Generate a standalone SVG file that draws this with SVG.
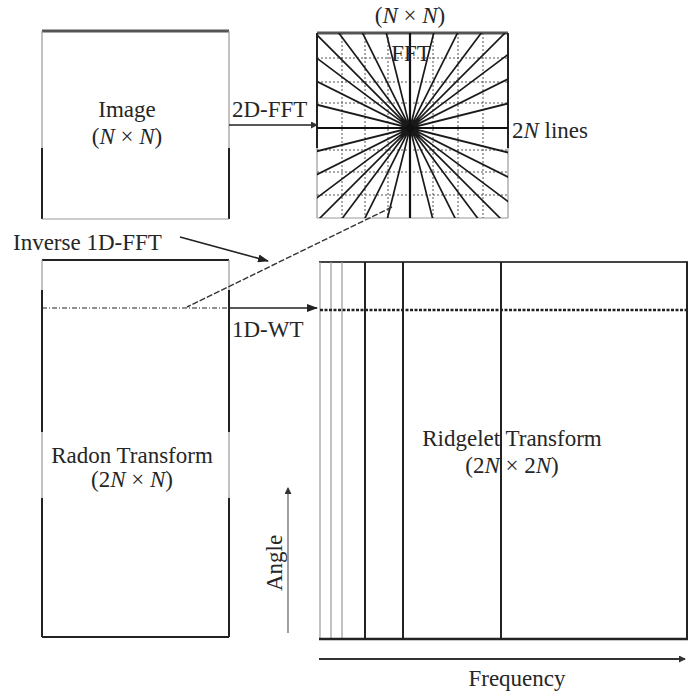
<svg xmlns="http://www.w3.org/2000/svg" width="689" height="698" viewBox="0 0 689 698">
<style>
text{font-family:"Liberation Serif","Times New Roman",serif;font-size:23px;fill:#262626}
.it{font-style:italic}
.lt{stroke:#999;stroke-width:1.2;fill:none}
.dk{stroke:#222;stroke-width:2;fill:none}
.grid{stroke:#555;stroke-width:1;stroke-dasharray:2 2;fill:none}
.ray{stroke:#1a1a1a;stroke-width:1.7;fill:none}
.conn{stroke:#222;stroke-width:1.6;fill:none}
</style>
<defs>
<marker id="arr" markerUnits="userSpaceOnUse" markerWidth="11" markerHeight="8" refX="10" refY="4" orient="auto">
<path d="M0,0 L11,4 L0,8 z" fill="#222"/>
</marker>
<marker id="sarr" markerUnits="userSpaceOnUse" markerWidth="7" markerHeight="7" refX="6" refY="3.5" orient="auto">
<path d="M0,0 L7,3.5 L0,7 z" fill="#333"/>
</marker>
<clipPath id="fftclip"><rect x="317" y="33" width="191" height="185"/></clipPath>
</defs>
<rect width="689" height="698" fill="#fff"/>

<g id="image">
<line x1="42" y1="31" x2="229" y2="31" stroke="#555" stroke-width="3"/>
<line class="lt" x1="42" y1="31" x2="42" y2="148"/>
<line class="lt" x1="229" y1="31" x2="229" y2="148"/>
<line class="dk" x1="42" y1="148" x2="42" y2="219"/>
<line class="dk" x1="229" y1="148" x2="229" y2="219"/>
<line class="lt" x1="42" y1="219" x2="229" y2="219"/>
<text x="127" y="117" text-anchor="middle">Image</text>
<text x="127" y="144" text-anchor="middle">(<tspan class="it">N</tspan> × <tspan class="it">N</tspan>)</text>
</g>

<g id="fft">
<line x1="317" y1="33" x2="508" y2="33" stroke="#555" stroke-width="3"/>
<line class="dk" x1="317" y1="33" x2="317" y2="148"/>
<line class="lt" x1="317" y1="148" x2="317" y2="218"/>
<line class="dk" x1="508" y1="33" x2="508" y2="148"/>
<line class="lt" x1="508" y1="148" x2="508" y2="218"/>
<line class="lt" x1="317" y1="218" x2="508" y2="218"/>
<path class="grid" d="M342,33V218M365,33V218M388,33V218M433,33V218M458,33V218M483,33V218M317,58H508M317,82H508M317,103H508M317,150H508M317,172H508M317,195H508"/>
<g clip-path="url(#fftclip)">
<path class="ray" d="M310,28L510,228M335,28L485,228M360,28L460,228M385,28L435,228M435,28L385,228M460,28L360,228M485,28L335,228M510,28L310,228M310,203L510,53M310,178L510,78M310,153L510,103M310,103L510,153M310,78L510,178M310,53L510,203"/>
<path d="M410,33V218M317,128H508" stroke="#111" stroke-width="2.2" fill="none"/>
</g>
<circle cx="410" cy="128" r="4" fill="#111"/>
<text x="411" y="61" text-anchor="middle">FFT</text>
<text x="410" y="23" text-anchor="middle">(<tspan class="it">N</tspan> × <tspan class="it">N</tspan>)</text>
<text x="512" y="138">2<tspan class="it">N</tspan> lines</text>
</g>

<g id="radon">
<line class="dk" x1="42" y1="260" x2="229" y2="260" stroke-width="1.6"/>
<line class="lt" x1="42" y1="260" x2="42" y2="290"/>
<line class="lt" x1="229" y1="260" x2="229" y2="290"/>
<line class="dk" x1="42" y1="290" x2="42" y2="432"/>
<line class="dk" x1="229" y1="290" x2="229" y2="432"/>
<line class="lt" x1="42" y1="432" x2="42" y2="498"/>
<line class="lt" x1="229" y1="432" x2="229" y2="498"/>
<line class="dk" x1="42" y1="498" x2="42" y2="637"/>
<line class="dk" x1="229" y1="498" x2="229" y2="637"/>
<line class="dk" x1="42" y1="637" x2="229" y2="637"/>
<line x1="42" y1="308" x2="229" y2="308" stroke="#222" stroke-width="1.2" stroke-dasharray="5 2 1 2"/>
<text x="132" y="463" text-anchor="middle">Radon Transform</text>
<text x="132" y="487" text-anchor="middle">(2<tspan class="it">N</tspan> × <tspan class="it">N</tspan>)</text>
</g>

<g id="ridgelet">
<line x1="319" y1="262" x2="688" y2="262" stroke="#444" stroke-width="2"/>
<line class="lt" x1="320" y1="262" x2="320" y2="639"/>
<line class="lt" x1="331" y1="262" x2="331" y2="639"/>
<line class="lt" x1="342" y1="262" x2="342" y2="639"/>
<line class="dk" x1="365" y1="262" x2="365" y2="639"/>
<line class="dk" x1="403" y1="262" x2="403" y2="639"/>
<line class="dk" x1="501" y1="262" x2="501" y2="639" stroke-width="1.8"/>
<line class="dk" x1="687" y1="262" x2="687" y2="639"/>
<line x1="319" y1="639" x2="688" y2="639" stroke="#222" stroke-width="2.5"/>
<line x1="320" y1="310" x2="688" y2="310" stroke="#222" stroke-width="2.6" stroke-dasharray="3 1.5"/>
<text x="512" y="446" text-anchor="middle">Ridgelet Transform</text>
<text x="512" y="473" text-anchor="middle">(2<tspan class="it">N</tspan> × 2<tspan class="it">N</tspan>)</text>
</g>

<g id="angle-axis">
<line x1="288" y1="633" x2="288" y2="488" stroke="#777" stroke-width="1.4" marker-end="url(#sarr)"/>
<text transform="translate(282,563) rotate(-90)" text-anchor="middle">Angle</text>
</g>

<g id="frequency-axis">
<line x1="319" y1="659" x2="685" y2="659" stroke="#333" stroke-width="2.2" marker-end="url(#sarr)"/>
<text x="517" y="686" text-anchor="middle">Frequency</text>
</g>

<g id="connectors">
<line class="conn" x1="229" y1="125" x2="317" y2="125" marker-end="url(#sarr)"/>
<text x="232" y="117">2D-FFT</text>
<line class="conn" x1="229" y1="308" x2="317" y2="308" marker-end="url(#arr)"/>
<text x="232" y="337">1D-WT</text>
<line class="conn" x1="180" y1="237" x2="268" y2="261" marker-end="url(#arr)"/>
<text x="13" y="250">Inverse 1D-FFT</text>
<line x1="392" y1="207" x2="187" y2="307" stroke="#333" stroke-width="1.4" stroke-dasharray="6 2"/>
</g>
</svg>
